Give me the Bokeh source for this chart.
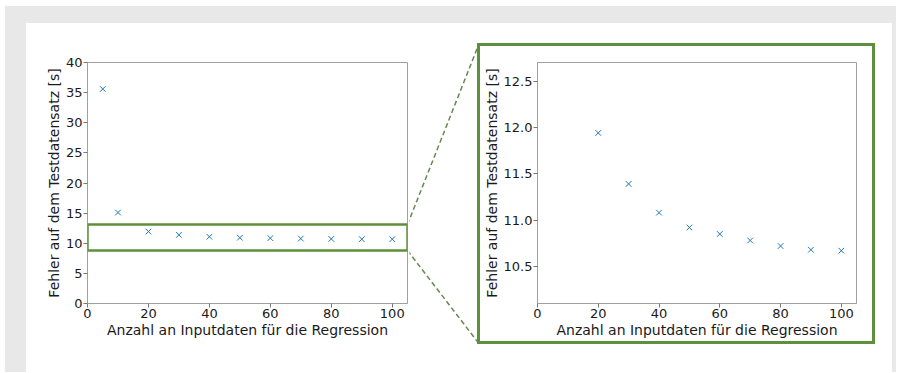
from bokeh.plotting import figure
from bokeh.layouts import row, column
from bokeh.models import Range1d, FixedTicker, BoxAnnotation, Spacer
from bokeh.embed import file_html
from bokeh.resources import INLINE

# ---- data ----
n_inputs = [5, 10, 20, 30, 40, 50, 60, 70, 80, 90, 100]
test_error = [35.6, 15.1, 11.94, 11.39, 11.08, 10.92, 10.85, 10.78, 10.72, 10.68, 10.67]
zoom_n = [20, 30, 40, 50, 60, 70, 80, 90, 100]
zoom_error = [11.94, 11.39, 11.08, 10.92, 10.85, 10.78, 10.72, 10.68, 10.67]

x_ticks = [0, 20, 40, 60, 80, 100]
y_ticks_left = [0, 5, 10, 15, 20, 25, 30, 35, 40]
y_ticks_right = [10.5, 11.0, 11.5, 12.0, 12.5]
y_tick_labels_right = ["10.5", "11.0", "11.5", "12.0", "12.5"]

zoom_box = [8.8, 13.1]            # highlighted band in the left plot (y range)
connector_x = [105.0, 128.3]      # dashed connectors, in the left plot's data space
connector_top_y = [13.1, 42.9]
connector_bottom_y = [8.8, -6.56]

x_label = "Anzahl an Inputdaten für die Regression"
y_label = "Fehler auf dem Testdatensatz [s]"

GREEN = "#5e8f3c"
DASH_GREEN = "#648a50"
BLUE = "#1f77b4"
SPINE = "#a0a0a0"
TEXT = "#1a1a1a"
FONT = "DejaVu Sans"
GRAY_BG = "#e8e8e9"


def style(p):
    p.xgrid.visible = False
    p.ygrid.visible = False
    p.outline_line_color = SPINE
    p.outline_line_width = 1
    p.background_fill_color = "white"
    p.border_fill_color = "white"
    for ax in (p.xaxis[0], p.yaxis[0]):
        ax.axis_label_text_font = FONT
        ax.axis_label_text_font_size = "14px"
        ax.axis_label_text_font_style = "normal"
        ax.axis_label_text_color = TEXT
        ax.major_label_text_font = FONT
        ax.major_label_text_font_size = "13px"
        ax.major_label_text_color = TEXT
        ax.axis_line_color = SPINE
        ax.major_tick_line_color = "#777777"
        ax.major_tick_out = 4
        ax.major_tick_in = 0
        ax.minor_tick_line_color = None
        ax.major_label_standoff = 1
        ax.axis_label_standoff = 1


# ---- left plot ----
left = figure(frame_width=320, frame_height=241,
              min_border_left=61, min_border_right=2,
              min_border_top=39, min_border_bottom=69,
              x_range=Range1d(0, 105), y_range=Range1d(0, 40),
              output_backend="svg", toolbar_location=None,
              x_axis_label=x_label, y_axis_label=y_label)
style(left)
left.xaxis.ticker = FixedTicker(ticks=x_ticks)
left.yaxis.ticker = FixedTicker(ticks=y_ticks_left)
left.scatter(n_inputs, test_error, marker="x", size=8, line_color=BLUE, line_width=1)
left.add_layout(BoxAnnotation(bottom=zoom_box[0], top=zoom_box[1],
                              fill_alpha=0, line_alpha=1,
                              line_color=GREEN, line_width=2.5))

# ---- connector strip (same data scale as the left plot) ----
mid = figure(width=71, height=349, min_border=0, title=None,
             x_range=Range1d(105.66, 128.95), y_range=Range1d(-11.45, 46.47),
             x_axis_location=None, y_axis_location=None,
             output_backend="svg", toolbar_location=None)
mid.grid.visible = False
mid.outline_line_color = None
mid.border_fill_color = "white"
mid.background_fill_color = "white"
mid.line(connector_x, connector_top_y, line_color=DASH_GREEN, line_width=1.5, line_dash="5 3")
mid.line(connector_x, connector_bottom_y, line_color=DASH_GREEN, line_width=1.5, line_dash="5 3")

# ---- right (zoomed) plot ----
right = figure(frame_width=319, frame_height=241,
               min_border_left=57, min_border_right=16,
               min_border_top=16, min_border_bottom=38,
               x_range=Range1d(0, 105), y_range=Range1d(10.1, 12.7),
               output_backend="svg", toolbar_location=None,
               x_axis_label=x_label, y_axis_label=y_label,
               styles={"outline": f"3px solid {GREEN}"})
style(right)
right.xaxis.ticker = FixedTicker(ticks=x_ticks)
right.yaxis.ticker = FixedTicker(ticks=y_ticks_right)
right.yaxis.major_label_overrides = {t: s for t, s in zip(y_ticks_right, y_tick_labels_right)}
right.scatter(zoom_n, zoom_error, marker="x", size=8, line_color=BLUE, line_width=1)

white_panel = row(column(left), column(mid),
                  column(Spacer(width=392, height=23), right),
                  Spacer(width=20, height=10),
                  styles={"background-color": "white"})
gray_box = column(Spacer(width=10, height=17),
                  row(Spacer(width=21, height=10), white_panel, Spacer(width=4, height=10)),
                  styles={"background-color": GRAY_BG})
page = column(Spacer(width=10, height=6), row(Spacer(width=5, height=10), gray_box))

open("out.html", "w").write(file_html(page, INLINE))
